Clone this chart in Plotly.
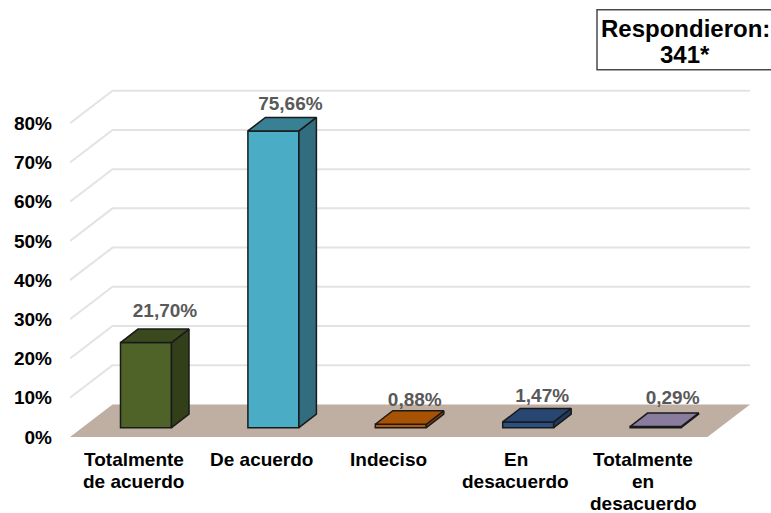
import plotly.graph_objects as go

# ---- data ----
categories = ["Totalmente<br>de acuerdo", "De acuerdo", "Indeciso", "En<br>desacuerdo", "Totalmente<br>en<br>desacuerdo"]
values = [21.70, 75.66, 0.88, 1.47, 0.29]
value_labels = ["21,70%", "75,66%", "0,88%", "1,47%", "0,29%"]
y_ticks = [0, 10, 20, 30, 40, 50, 60, 70, 80]
front_colors = ["#4F6228", "#4BACC6", "#B65708", "#2A5082", "#8A7D9E"]
top_colors = ["#3B491E", "#388094", "#A85204", "#274672", "#897C9C"]
side_colors = ["#333F19", "#316D7E", "#8A4204", "#1E3A5E", "#6A5F7A"]

# ---- geometry (pixel layout translated to axis units) ----
W, H = 771, 513
PX_X = 127.4          # pixels per category
PX_Y = 3.92           # pixels per percent
LEFT, RIGHT, FLOOR_Y = 70, 750, 437
Y_MAX = 90
x_lo = -0.5
x_hi = x_lo + (RIGHT - LEFT) / PX_X
WALL_DX, WALL_DY = 42.5 / PX_X, 32.5 / PX_Y
BAR_W = 51 / PX_X
BAR_DX, BAR_DY = 17.5 / PX_X, 13.5 / PX_Y
OFF_X, OFF_Y = 12.3 / PX_X, 9.3 / PX_Y
EDGE = "#1A1A1A"
label_nudge = [(19, -30), (17, -26), (14, -23), (14, -25), (17, -27)]
LINE_Y_PX = [459, 481, 503]   # vertical centre of each category label line

shapes = []
# floor
shapes.append(dict(type="path", layer="below", xref="x", yref="y", line=dict(width=0), fillcolor="#BFAEA2",
                   path=f"M {x_lo} 0 L {x_lo + WALL_DX} {WALL_DY} L {x_hi} {WALL_DY} L {x_hi - WALL_DX} 0 Z"))
# gridlines
for v in y_ticks[1:]:
    shapes.append(dict(type="path", layer="below", xref="x", yref="y", line=dict(color="#E3E3E3", width=2),
                       path=f"M {x_lo} {v} L {x_lo + WALL_DX} {v + WALL_DY} L {x_hi} {v + WALL_DY}"))
# answer-count box
shapes.append(dict(type="rect", xref="paper", yref="paper", layer="above",
                   x0=(597 - LEFT) / (RIGHT - LEFT), x1=(790 - LEFT) / (RIGHT - LEFT),
                   y0=(FLOOR_Y - 70) / (PX_Y * Y_MAX), y1=(FLOOR_Y - 10) / (PX_Y * Y_MAX),
                   line=dict(color="#4A4A4A", width=1.5), fillcolor="white"))

fig = go.Figure()

xs = [i + OFF_X for i in range(len(values))]
fig.add_trace(go.Bar(x=xs, y=values, base=OFF_Y, width=BAR_W,
                     marker=dict(color=front_colors, line=dict(color=EDGE, width=1.5)),
                     hoverinfo="skip", showlegend=False))

for i, v in enumerate(values):
    xl, xr = xs[i] - BAR_W / 2, xs[i] + BAR_W / 2
    bot, top = OFF_Y, OFF_Y + v
    # right side
    fig.add_trace(go.Scatter(x=[xr, xr + BAR_DX, xr + BAR_DX, xr, xr],
                             y=[bot, bot + BAR_DY, top + BAR_DY, top, bot],
                             mode="lines", fill="toself", fillcolor=side_colors[i],
                             line=dict(color=EDGE, width=1.5), hoverinfo="skip", showlegend=False))
    # top
    fig.add_trace(go.Scatter(x=[xl, xl + BAR_DX, xr + BAR_DX, xr, xl],
                             y=[top, top + BAR_DY, top + BAR_DY, top, top],
                             mode="lines", fill="toself", fillcolor=top_colors[i],
                             line=dict(color=EDGE, width=1.5), hoverinfo="skip", showlegend=False))

fig.add_trace(go.Scatter(
    x=[xs[i] + label_nudge[i][0] / PX_X for i in range(len(values))],
    y=[OFF_Y + values[i] - label_nudge[i][1] / PX_Y for i in range(len(values))],
    mode="text", text=value_labels, textposition="middle center",
    textfont=dict(family="Liberation Sans", size=19, color="#595959", weight="bold"),
    hoverinfo="skip", showlegend=False))

# category labels, one text per line so the line spacing can follow the reference
for i, cat in enumerate(categories):
    for j, line in enumerate(cat.split("<br>")):
        fig.add_annotation(text=line, xref="x", yref="paper", xanchor="center", yanchor="middle",
                           x=i, y=(FLOOR_Y - LINE_Y_PX[j]) / (PX_Y * Y_MAX), showarrow=False,
                           font=dict(family="Liberation Sans", size=19, color="black", weight="bold"))

for txt, y_px in [("Respondieron:", 29), ("341*", 55)]:
    fig.add_annotation(text=txt, xref="paper", yref="paper", xanchor="center", yanchor="middle",
                       x=(685 - LEFT) / (RIGHT - LEFT), y=(FLOOR_Y - y_px) / (PX_Y * Y_MAX),
                       showarrow=False, font=dict(family="Liberation Sans", size=24, color="black", weight="bold"))

fig.update_layout(
    width=W, height=H, autosize=False,
    margin=dict(l=LEFT, r=W - RIGHT, t=FLOOR_Y - PX_Y * Y_MAX, b=H - FLOOR_Y, pad=0),
    paper_bgcolor="white", plot_bgcolor="white", shapes=shapes, showlegend=False,
    xaxis=dict(range=[x_lo, x_hi], showticklabels=False,
               showgrid=False, zeroline=False, showline=False, ticks="", automargin=False),
    yaxis=dict(range=[0, Y_MAX], tickmode="array", tickvals=y_ticks, ticktext=[f"{t}%" for t in y_ticks],
               showgrid=False, zeroline=False, showline=False, ticks="", ticklabelstandoff=17, automargin=False,
               tickfont=dict(family="Liberation Sans", size=19, color="black", weight="bold")),
)

fig.write_html("out.html", config={"displayModeBar": False}, post_script="document.body.style.margin='0';")
